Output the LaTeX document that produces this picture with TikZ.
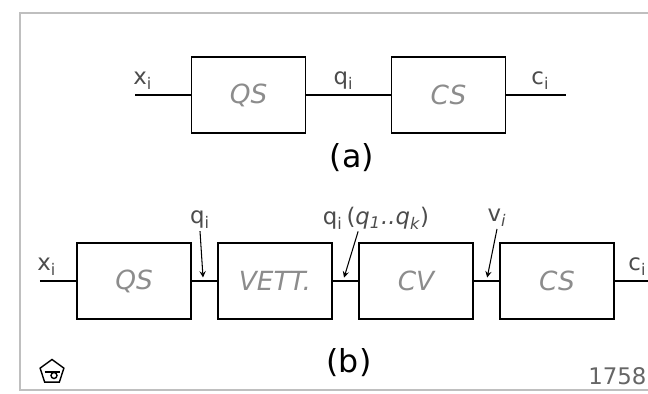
\documentclass[tikz,border=0pt]{standalone}
\usepackage{fontspec}
\setmainfont{DejaVu Sans}
\usepackage{xcolor}
\usetikzlibrary{arrows,calc,positioning,shapes.geometric}
\tikzset{%
	block/.style    = {draw, rectangle, line width=1.1pt, minimum height=1.52cm, minimum width=2.28cm,
	                   font=\fontsize{15}{17}\selectfont\itshape, text=black!45}, % Box
	input/.style    = {coordinate}, % Input
	output/.style   = {coordinate}, % Output
	sig/.style      = {font=\fontsize{13}{15}\selectfont, text=black!70, inner sep=1pt}, % Signal name
	tag/.style      = {font=\fontsize{18}{20}\selectfont}, % (a), (b)
	frame/.style    = {draw=black!25, line width=1pt},
}

\begin{document}
\begin{tikzpicture}[node distance = 4cm, >=stealth, line width=0.6pt]
		\useasboundingbox (0,0) rectangle (12.96,7.88);
		\draw[frame] (12.96,7.62) -- (0.4,7.62) -- (0.4,0.08) -- (12.96,0.08);
		% (a)
		\node[block] (qsa) at (4.97,5.98) {QS};
		\node[block, right of=qsa] (csa) {CS};
		\node[input, left of=qsa, node distance=2.27cm] (xa) {};
		\node[output, right of=csa, node distance=2.35cm] (ca) {};
		\draw (xa) -- node[sig, above, pos=0.14, yshift=2pt] {x\textsubscript{i}} (qsa);
		\draw (qsa) -- node[sig, above, pos=0.44, yshift=2pt] {q\textsubscript{i}} (csa);
		\draw (csa) -- node[sig, above, pos=0.57, yshift=2pt] {c\textsubscript{i}} (ca);
		\node[tag] (taga) at (7.04,4.72) {(a)};
		% (b)
		\node[block] (qsb) at (2.68,2.26) {QS};
		\node[block, right of=qsb, node distance=2.82cm] (vett) {VETT.};
		\node[block, right of=vett, node distance=2.82cm] (cv) {CV};
		\node[block, right of=cv, node distance=2.82cm] (csb) {CS};
		\node[input, left of=qsb, node distance=1.88cm] (xb) {};
		\node[output, right of=csb, node distance=1.82cm] (cb) {};
		\draw (xb) -- node[sig, above, pos=0.19, yshift=2pt] {x\textsubscript{i}} (qsb);
		\draw (qsb) -- (vett);
		\draw (vett) -- (cv);
		\draw (cv) -- (csb);
		\draw (csb) -- node[sig, above, pos=0.68, yshift=2pt] {c\textsubscript{i}} (cb);
		\node[sig] (lqi) at (4.0,3.48) {q\textsubscript{i}};
		\node[sig] (lqk) at (7.52,3.52) {q\textsubscript{i}\,(\textit{q\textsubscript{1}..q\textsubscript{k}})};
		\node[sig] (lvi) at (9.94,3.52) {v\textsubscript{\itshape i}};
		\draw[->, shorten >=2pt] (lqi.south) -- ($(qsb.east)!0.45!(vett.west)$);
		\draw[->, shorten >=2pt] ([xshift=0.75cm]lqk.south west) -- ($(vett.east)!0.4!(cv.west)$);
		\draw[->, shorten >=2pt] (lvi.south) -- ($(cv.east)!0.5!(csb.west)$);
		\node[tag] (tagb) at (6.98,0.62) {(b)};
		% mark and number
		\node[draw, regular polygon, regular polygon sides=5, minimum size=0.5cm, inner sep=0pt, line width=0.8pt] (logo) at (1.04,0.44) {};
		\draw[line width=0.8pt] ([xshift=-0.15cm]logo.center) -- ([xshift=0.15cm]logo.center);
		\draw[line width=0.8pt] ([xshift=0.04cm,yshift=-0.07cm]logo.center) circle (0.06);
		\node[sig, anchor=west, font=\fontsize{13}{15}\selectfont, text=black!60] (num) at (11.72,0.36) {1758};
\end{tikzpicture}
\end{document}
